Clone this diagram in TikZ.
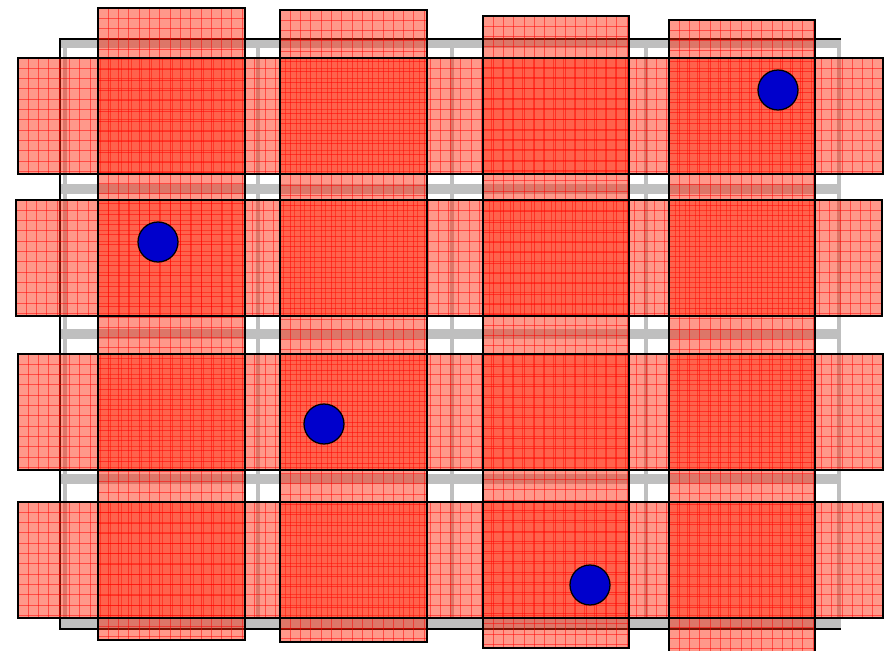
\documentclass[tikz,border=0pt]{standalone}
\usepackage{tikz}

\definecolor{cellred}{RGB}{255,40,10}
\definecolor{pointblue}{RGB}{0,0,204}

\begin{document}
\begin{tikzpicture}[x=0.025cm,y=-0.025cm,
    gridband/.style={black!25,line width=7pt},
    gridbar/.style={black!25,line width=3.4pt},
    cellfill/.style={fill=cellred,fill opacity=0.48},
    celltex/.style={red,opacity=0.5,line width=0.6pt},
    cellline/.style={draw=black,line width=1.1pt},
    point/.style={draw=black,fill=pointblue,line width=0.9pt}]
      \useasboundingbox (0,0) rectangle (888,651);
      % underlying grid
      \foreach \y/\w in {44/5.6pt,189/7pt,334/7pt,479/7pt,623.5/6.4pt} \draw[gridband,line width=\w] (60,\y) -- (841,\y);
      \foreach \x in {65,258,452,646,839} \draw[gridbar] (\x,40) -- (\x,628);
      \draw[line width=1.1pt] (841,39) -- (60,39) -- (60,629) -- (841,629);
      % rows and columns
      \foreach \a/\b/\c/\d in {18/58/883/174,16/200/882/316,18/354/883/470,18/502/883/618,
                               98/8/245/640,280/10/427/642,483/16/629/648,669/20/815/662} {
        \fill[cellfill] (\a,\b) rectangle (\c,\d);
        \begin{scope}
          \clip (\a,\b) rectangle (\c,\d);
          \foreach \t in {0,10.3,...,870} {
            \draw[celltex] (\a+\t,\b) -- (\a+\t,\d);
            \draw[celltex] (\a,\b+\t) -- (\c,\b+\t);
          }
        \end{scope}
      }
      \foreach \a/\b/\c/\d in {18/58/883/174,16/200/882/316,18/354/883/470,18/502/883/618,
                               98/8/245/640,280/10/427/642,483/16/629/648,669/20/815/662}
        \draw[cellline] (\a,\b) rectangle (\c,\d);
      % points
      \foreach \px/\py in {778/90,158/242,324/424,590/585} \draw[point] (\px,\py) circle (20);
    \end{tikzpicture}
\end{document}
